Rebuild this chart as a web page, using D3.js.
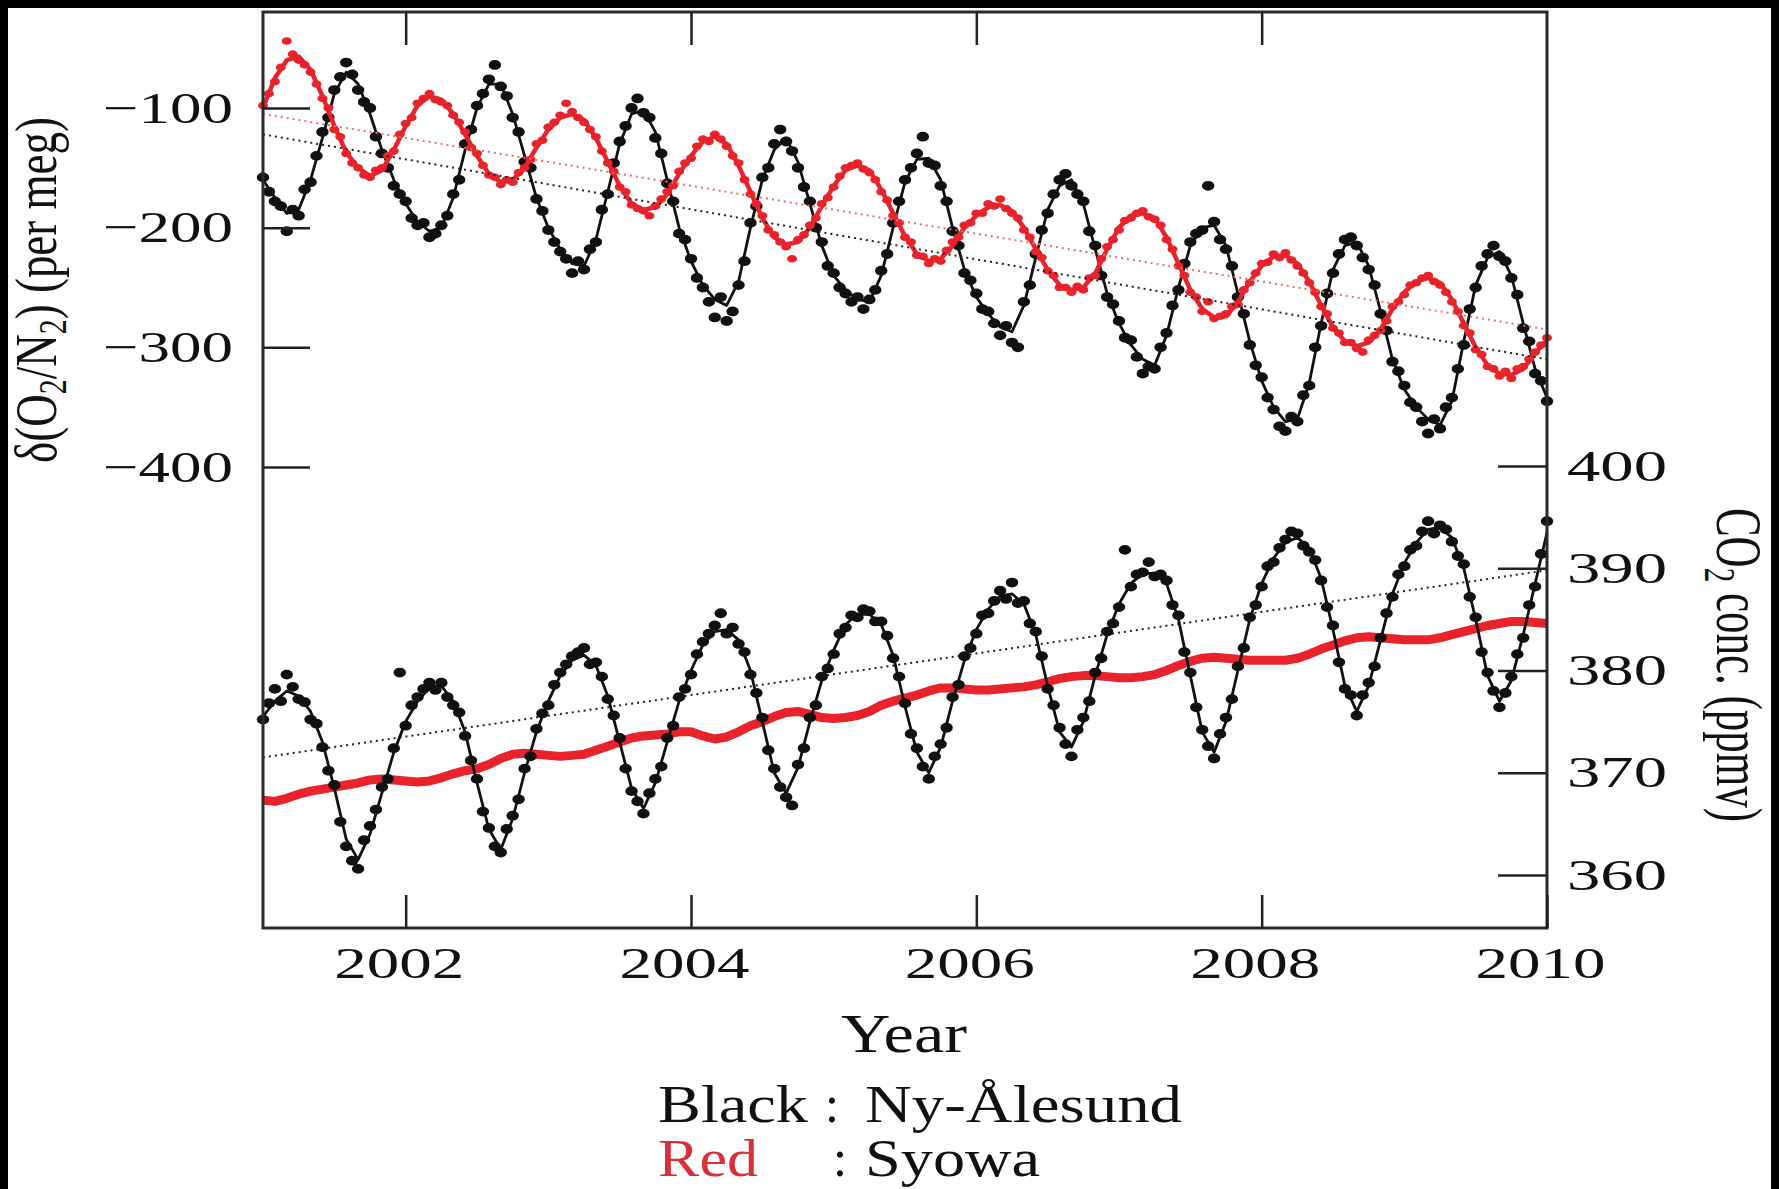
<!DOCTYPE html>
<html>
<head>
<meta charset="utf-8">
<script src="https://cdn.jsdelivr.net/npm/d3@7"></script>
<style>
  body { margin: 0; background: #000; }
  svg { display: block; }
  text { font-family: "Liberation Serif", "Times New Roman", Tinos, serif; }
</style>
</head>
<body>
<svg width="1779" height="1189"></svg>
<script>
// Fitted curves: one value per month, Jan 2001 .. Jan 2010
// Flask samples: two per month, same span
const startYear = 2001;

// δ(O2/N2), per meg
const nyO2Fit = [
  -160,-175,-188,-185,-160,-125,-88,-70,-80,-105,-135,-160,
  -180,-195,-203,-200,-175,-135,-100,-80,-80,-105,-140,-175,
  -200,-218,-230,-232,-210,-170,-130,-105,-102,-120,-160,-200,
  -228,-248,-260,-265,-245,-200,-160,-135,-125,-145,-180,-215,
  -240,-252,-260,-262,-240,-200,-162,-143,-142,-160,-200,-235,
  -258,-272,-283,-287,-265,-225,-185,-165,-160,-180,-218,-255,
  -280,-298,-310,-315,-290,-250,-215,-200,-198,-215,-255,-295,
  -328,-350,-362,-360,-330,-280,-235,-215,-212,-232,-270,-310,
  -335,-350,-360,-365,-345,-295,-248,-225,-220,-240,-280,-318,
  -342
];
const nyO2Obs = [
  -158,-170,-178,-182,-203,-185,-190,-168,-162,-140,-120,-108,-85,-74,-62,-72,-85,-95,-100,-124,-138,-150,-165,-172,
  -178,-192,-198,-196,-208,-205,-198,-190,-172,-160,-130,-118,-98,-88,-76,-64,-82,-90,-108,-120,-145,-150,-176,-186,
  -202,-212,-220,-226,-238,-228,-235,-218,-212,-185,-172,-146,-128,-115,-100,-92,-104,-108,-125,-138,-163,-178,-205,-210,
  -226,-242,-250,-262,-275,-258,-278,-270,-248,-228,-196,-182,-158,-150,-130,-118,-128,-136,-150,-166,-178,-200,-212,-232,
  -238,-250,-255,-262,-258,-268,-260,-252,-236,-222,-196,-178,-160,-150,-138,-124,-146,-148,-165,-178,-203,-215,-238,-244,
  -255,-268,-270,-280,-290,-282,-296,-300,-262,-248,-222,-202,-188,-172,-160,-155,-165,-172,-178,-203,-215,-240,-258,-264,
  -278,-292,-294,-308,-322,-316,-318,-300,-288,-265,-252,-230,-212,-205,-202,-165,-195,-210,-218,-232,-258,-272,-298,-315,
  -325,-342,-352,-366,-370,-358,-362,-340,-332,-300,-282,-255,-238,-222,-210,-208,-215,-225,-235,-248,-272,-286,-312,-320,
  -332,-346,-350,-362,-372,-360,-368,-350,-342,-318,-298,-268,-250,-232,-222,-215,-224,-228,-242,-256,-284,-295,-322,-328,
  -345
];
const syO2Fit = [
  -100,-75,-60,-57,-68,-90,-115,-137,-150,-157,-152,-135,
  -115,-98,-90,-93,-105,-122,-140,-155,-162,-160,-150,-133,
  -118,-108,-105,-110,-125,-145,-165,-180,-185,-183,-172,-155,
  -140,-128,-124,-130,-148,-170,-192,-208,-214,-212,-200,-182,
  -165,-152,-148,-152,-168,-188,-207,-222,-228,-226,-215,-200,
  -190,-183,-181,-186,-200,-218,-235,-248,-252,-250,-238,-218,
  -200,-190,-188,-192,-208,-230,-252,-268,-275,-274,-262,-245,
  -232,-224,-223,-230,-245,-265,-283,-295,-299,-296,-285,-268,
  -254,-245,-242,-246,-260,-280,-300,-315,-322,-323,-318,-305,
  -294
];
const syO2Obs = [
  -98,-88,-78,-66,-44,-55,-60,-64,-70,-80,-92,-100,-118,-124,-138,-146,-150,-156,-158,-152,-150,-140,-136,-122,
  -113,-108,-96,-92,-88,-93,-95,-98,-106,-112,-120,-133,-138,-148,-156,-158,-164,-160,-162,-154,-150,-143,-130,-127,
  -116,-112,-106,-96,-103,-108,-112,-118,-124,-136,-146,-153,-166,-170,-181,-184,-186,-190,-182,-176,-170,-165,-153,-146,
  -142,-132,-126,-128,-122,-126,-132,-140,-146,-160,-172,-180,-190,-202,-206,-212,-216,-226,-210,-206,-198,-192,-180,-175,
  -166,-157,-150,-148,-146,-151,-154,-160,-170,-177,-190,-196,-208,-212,-223,-224,-230,-226,-228,-219,-212,-208,-198,-196,
  -188,-188,-180,-182,-176,-184,-188,-192,-202,-208,-220,-225,-236,-240,-250,-250,-254,-249,-252,-242,-240,-226,-216,-210,
  -202,-194,-192,-188,-186,-191,-193,-198,-210,-218,-232,-240,-254,-258,-270,-262,-276,-274,-272,-266,-264,-252,-246,-238,
  -230,-229,-222,-225,-221,-227,-232,-238,-246,-254,-266,-272,-284,-288,-296,-296,-301,-304,-294,-290,-286,-278,-266,-262,
  -256,-248,-246,-242,-240,-245,-248,-254,-262,-270,-282,-288,-302,-306,-316,-318,-324,-320,-326,-318,-316,-310,-304,-298,
  -292
];

// CO2, ppmv
const nyCO2Fit = [
  375.5,377,378,377.5,376,373,368.5,363.5,361.5,364,368,372,
  375,377,378.3,378.5,377,374,369,364.5,362.5,365.5,370,374,
  377,379.5,381,381.5,380.5,377.5,373,368.5,366.5,369,373,377,
  380,382.5,383.8,384,383,380,375,370,368,370.5,375,379,
  382,384.5,385.5,385.5,384.5,381.5,376.5,372,370,372.5,377,381,
  384,386,387.3,387.5,386.5,383.5,378.5,374,372.5,375,379.5,383.5,
  386.5,388.5,389.5,389.5,388.5,385,379.5,374,372,375,380,385,
  388.5,391,392.5,393,392,389,384,378.5,376,378.5,383,387.5,
  390.5,392.5,393.8,394,393,390,385,379.5,377,379,383.5,388.5,
  393.5
];
const nyCO2Obs = [
  375.2,376.8,378.2,377.0,379.6,378.4,377.2,376.9,375.2,374.8,372.5,370.2,368.8,365.2,362.8,361.4,360.6,363.4,364.8,366.4,368.6,369.4,372.4,379.8,
  374.6,376.6,377.4,378.2,378.8,378.1,378.8,377.4,376.6,375.9,373.6,371.2,369.4,366.2,364.6,362.8,362.2,364.5,365.8,367.4,370.4,371.6,374.3,375.8,
  376.6,378.6,379.8,380.6,381.4,381.8,382.2,380.6,380.8,379.4,377.2,375.6,373.4,370.4,368.2,367.2,366.0,368.0,369.4,370.6,373.4,374.6,377.4,378.2,
  379.6,381.6,382.8,383.6,384.4,385.6,383.6,384.2,382.6,381.8,379.6,377.8,375.4,372.2,370.4,368.6,367.6,366.8,370.8,372.4,375.4,376.6,379.4,380.2,
  381.6,383.6,384.2,385.4,385.2,386.0,385.8,384.8,384.8,383.4,381.2,379.4,376.8,373.8,372.4,370.6,369.4,371.6,372.8,374.4,377.4,378.6,381.4,382.2,
  383.6,385.4,385.6,386.8,387.8,387.0,388.6,386.6,386.8,384.6,383.8,381.4,378.2,376.6,374.4,372.8,371.6,374.2,375.4,377.0,379.8,381.2,383.8,384.6,
  386.2,391.8,388.2,389.4,389.6,390.6,389.2,389.4,388.8,386.4,385.4,381.8,379.8,376.4,374.2,372.6,371.4,373.8,375.4,377.2,380.4,382.2,385.2,386.4,
  388.2,390.2,390.6,392.0,392.8,393.6,393.4,392.2,391.6,390.8,388.8,386.2,384.4,380.8,378.2,377.6,375.6,377.6,378.8,380.4,383.2,385.6,387.2,389.4,
  390.2,391.8,392.2,393.6,394.6,393.4,394.2,393.8,392.6,391.2,390.4,387.2,385.2,381.8,379.8,378.0,376.4,377.8,379.4,381.6,383.2,386.4,388.2,391.4,
  394.6
];
const syCO2Fit = [
  367.3,367.2,367.5,367.9,368.2,368.4,368.6,368.8,369.0,369.3,369.4,369.3,
  369.2,369.1,369.2,369.5,369.9,370.2,370.4,370.8,371.4,371.8,371.9,371.8,
  371.7,371.6,371.7,371.8,372.2,372.6,373.0,373.4,373.6,373.7,373.8,374.0,
  374.0,373.6,373.3,373.5,374.0,374.6,375.0,375.5,375.9,376.0,375.7,375.4,
  375.3,375.4,375.6,376.0,376.6,377.0,377.3,377.6,378.0,378.3,378.3,378.2,
  378.1,378.1,378.2,378.3,378.4,378.6,378.9,379.2,379.4,379.5,379.5,379.4,
  379.3,379.3,379.4,379.6,380.0,380.5,380.9,381.2,381.3,381.2,381.1,381.0,
  381.0,381.0,381.0,381.2,381.6,382.1,382.5,382.9,383.2,383.3,383.2,383.1,
  383.0,383.0,383.0,383.2,383.5,383.8,384.1,384.4,384.6,384.8,384.8,384.7,
  384.6
];

// long-term trends, [year, value]
const nyO2Trend = [[2001, -122], [2010, -310]];
const syO2Trend = [[2001, -105], [2010, -285]];
const nyCO2Trend = [[2001, 371.5], [2010, 389.8]];

const yearTicks = [2002, 2004, 2006, 2008, 2010];
const o2Ticks = [-100, -200, -300, -400];
const co2Ticks = [360, 370, 380, 390, 400];
const legendKeys = ["Black", "Red"];
const legendStations = ["Ny-Ålesund", "Syowa"];

const black = "#111";
const red = "#e8232b";

const svg = d3.select("svg");

// paper
svg.append("rect").attr("x", 8).attr("y", 8).attr("width", 1763).attr("height", 1181).attr("fill", "#fff");

const plotTop = 12, plotBottom = 928;
const x = d3.scaleLinear().domain([2001, 2010]).range([263, 1547]);
const yO2 = d3.scaleLinear().domain([-400, -100]).range([467, 108]);
const yCO2 = d3.scaleLinear().domain([360, 400]).range([875, 466]);

const fitT = i => startYear + i / 12;
const obsT = i => startYear + i / 24;

function drawFit(values, y, color, width) {
  svg.append("path")
    .datum(values)
    .attr("fill", "none")
    .attr("stroke", color)
    .attr("stroke-width", width)
    .attr("stroke-linejoin", "round")
    .attr("d", d3.line().x((d, i) => x(fitT(i))).y(d => y(d)));
}

function drawObs(values, y, color, rx, ry) {
  svg.append("g").selectAll("ellipse")
    .data(values)
    .join("ellipse")
    .attr("cx", (d, i) => x(obsT(i)))
    .attr("cy", d => y(d))
    .attr("rx", rx)
    .attr("ry", ry)
    .attr("fill", color);
}

function drawTrend(pts, y, color) {
  svg.append("path")
    .datum(pts)
    .attr("fill", "none")
    .attr("stroke", color)
    .attr("stroke-width", 2)
    .attr("stroke-dasharray", "2,4")
    .attr("d", d3.line().x(d => x(d[0])).y(d => y(d[1])));
}

// upper panel: O2/N2
drawFit(nyO2Fit, yO2, black, 2.8);
drawObs(nyO2Obs, yO2, black, 6.2, 4.9);
drawFit(syO2Fit, yO2, red, 4.5);
drawObs(syO2Obs, yO2, red, 5, 3.8);
drawTrend(nyO2Trend, yO2, "#222");
drawTrend(syO2Trend, yO2, "#ee6a6a");

// lower panel: CO2
drawFit(syCO2Fit, yCO2, red, 9);
drawTrend(nyCO2Trend, yCO2, "#222");
drawFit(nyCO2Fit, yCO2, black, 2.8);
drawObs(nyCO2Obs, yCO2, black, 6.2, 4.9);

// frame
svg.append("rect")
  .attr("x", x.range()[0]).attr("y", plotTop)
  .attr("width", x.range()[1] - x.range()[0]).attr("height", plotBottom - plotTop)
  .attr("fill", "none").attr("stroke", "#2a2a2a").attr("stroke-width", 3);

function styleAxis(g, labelWidth) {
  g.attr("color", black);
  g.select(".domain").remove();
  g.selectAll(".tick line").attr("stroke", "#222").attr("stroke-width", 2.5);
  g.selectAll(".tick text")
    .attr("font-size", 44)
    .attr("textLength", labelWidth)
    .attr("lengthAdjust", "spacingAndGlyphs");
}

const xAxis = svg.append("g")
  .attr("transform", `translate(0,${plotBottom})`)
  .call(d3.axisBottom(x).tickValues(yearTicks).tickFormat(d3.format("d"))
    .tickSizeInner(-33).tickSizeOuter(0).tickPadding(19));
styleAxis(xAxis, 130);
xAxis.selectAll(".tick text").attr("dx", -7);

const xTop = svg.append("g")
  .attr("transform", `translate(0,${plotTop})`)
  .call(d3.axisTop(x).tickValues(yearTicks.slice(0, 4)).tickFormat("")
    .tickSizeInner(-33).tickSizeOuter(0));
styleAxis(xTop, 0);

const leftAxis = svg.append("g")
  .attr("transform", `translate(${x.range()[0]},0)`)
  .call(d3.axisLeft(yO2).tickValues(o2Ticks)
    .tickSizeInner(-47).tickSizeOuter(0).tickPadding(30));
styleAxis(leftAxis, 130);

const rightAxis = svg.append("g")
  .attr("transform", `translate(${x.range()[1]},0)`)
  .call(d3.axisRight(yCO2).tickValues(co2Ticks)
    .tickSizeInner(-49).tickSizeOuter(0).tickPadding(20));
styleAxis(rightAxis, 100);

// axis titles
const leftTitle = svg.append("text")
  .attr("transform", "translate(56,290) rotate(-90) scale(1,1.3)")
  .attr("text-anchor", "middle")
  .attr("font-size", 45)
  .attr("fill", black);
leftTitle.append("tspan").text("δ(O");
leftTitle.append("tspan").attr("font-size", 30).attr("dy", 8).text("2");
leftTitle.append("tspan").attr("dy", -8).text("/N");
leftTitle.append("tspan").attr("font-size", 30).attr("dy", 8).text("2");
leftTitle.append("tspan").attr("dy", -8).text(") (per meg)");

const rightTitle = svg.append("text")
  .attr("transform", "translate(1717,665) rotate(90) scale(1,1.5)")
  .attr("text-anchor", "middle")
  .attr("font-size", 43)
  .attr("fill", black);
rightTitle.append("tspan").text("CO");
rightTitle.append("tspan").attr("font-size", 29).attr("dy", 8).text("2");
rightTitle.append("tspan").attr("dy", -8).text(" conc. (ppmv)");

svg.append("text")
  .attr("x", 904).attr("y", 1052)
  .attr("text-anchor", "middle")
  .attr("font-size", 54)
  .attr("textLength", 126).attr("lengthAdjust", "spacingAndGlyphs")
  .attr("fill", black)
  .text("Year");

// legend
const legendRows = [
  { key: legendKeys[0], station: legendStations[0], color: black, y: 1122, keyW: 150, colonX: 832, stW: 317 },
  { key: legendKeys[1], station: legendStations[1], color: "#d9303a", y: 1176, keyW: 100, colonX: 840, stW: 175 }
];
legendRows.forEach(r => {
  svg.append("text").attr("x", 658).attr("y", r.y).attr("font-size", 52)
    .attr("textLength", r.keyW).attr("lengthAdjust", "spacingAndGlyphs")
    .attr("fill", r.color).text(r.key);
  svg.append("text").attr("x", r.colonX).attr("y", r.y).attr("font-size", 52)
    .attr("text-anchor", "middle").attr("fill", black).text(":");
  svg.append("text").attr("x", 865).attr("y", r.y).attr("font-size", 52)
    .attr("textLength", r.stW).attr("lengthAdjust", "spacingAndGlyphs")
    .attr("fill", black).text(r.station);
});
</script>
</body>
</html>
